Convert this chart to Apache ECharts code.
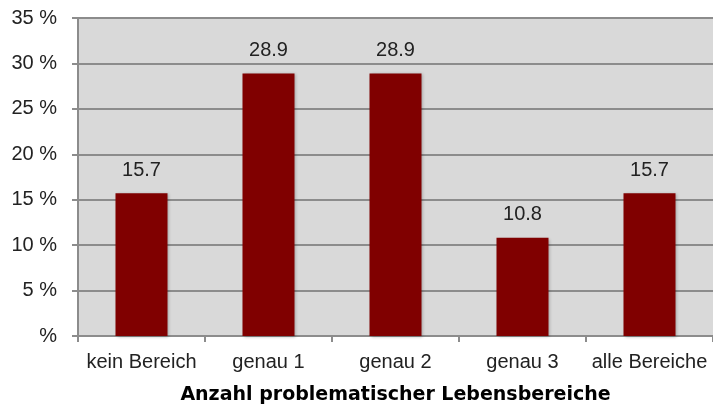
<!DOCTYPE html>
<html><head><meta charset="utf-8">
<script src="https://cdn.jsdelivr.net/npm/echarts@6/dist/echarts.min.js"></script>
<style>html,body{margin:0;padding:0;background:#fff}#c{width:713px;height:408px}</style>
</head><body><div id="c"></div>
<script>
const categories = ['kein Bereich', 'genau 1', 'genau 2', 'genau 3', 'alle Bereiche'];
const values = [15.7, 28.9, 28.9, 10.8, 15.7];
const yTicks = [0, 5, 10, 15, 20, 25, 30, 35];
const xTitle = 'Anzahl problematischer Lebensbereiche';

const chart = echarts.init(document.getElementById('c'), null, {renderer: 'canvas'});
const font = 'Liberation Sans';
chart.setOption({
  animation: false,
  grid: {left: 78, right: 0, top: 18, bottom: 72, containLabel: false, outerBoundsMode: 'none',
    show: true, backgroundColor: '#d9d9d9', borderWidth: 0},
  xAxis: {
    type: 'category', data: categories,
    name: xTitle, nameLocation: 'middle', nameGap: 50,
    nameTextStyle: {fontFamily: 'DejaVu Sans', fontWeight: 'bold', fontSize: 19, color: '#000'},
    axisLine: {show: true, lineStyle: {color: '#8c8c8c', width: 2}},
    axisTick: {show: true, alignWithLabel: false, length: 6, lineStyle: {color: '#8c8c8c', width: 2}},
    axisLabel: {fontFamily: font, fontSize: 20, color: '#222', margin: 16, interval: 0}
  },
  yAxis: {
    type: 'value', min: yTicks[0], max: yTicks[yTicks.length - 1], interval: 5,
    axisLine: {show: true, lineStyle: {color: '#8c8c8c', width: 2}},
    axisTick: {show: true, length: 6, lineStyle: {color: '#8c8c8c', width: 2}},
    splitLine: {show: true, lineStyle: {color: '#8c8c8c', width: 2}},
    axisLabel: {fontFamily: font, fontSize: 20, color: '#222', margin: 21,
      formatter: v => v === 0 ? '%' : v + ' %'}
  },
  series: [{
    type: 'bar', data: values, barWidth: 52,
    itemStyle: {color: '#800000', shadowColor: 'rgba(0,0,0,0.25)', shadowBlur: 3, shadowOffsetX: 1, shadowOffsetY: 1},
    label: {show: true, position: 'top', distance: 13, fontFamily: font, fontSize: 20, color: '#222',
      formatter: p => p.value.toFixed(1)}
  }]
});
</script></body></html>
